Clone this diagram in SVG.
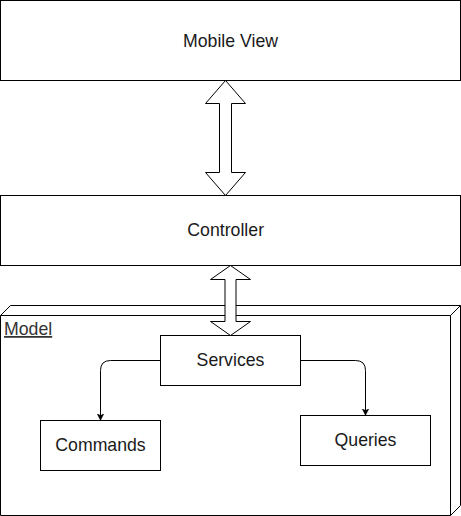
<svg xmlns="http://www.w3.org/2000/svg" width="461" height="516" viewBox="0 0 461 516">
<defs>
<style>
.box{fill:#fff;stroke:#000;stroke-width:1}
.dbl{fill:#fff;stroke:#000;stroke-width:1;stroke-linejoin:miter}
.lbl{font-family:"Liberation Sans",Arial,sans-serif;font-size:17.7px;fill:#1a1a1a;text-anchor:middle}
.edge{fill:none;stroke:#000;stroke-width:1}
</style>
<marker id="arr" viewBox="0 0 10 10" refX="10" refY="5" markerWidth="7" markerHeight="8" orient="auto" markerUnits="userSpaceOnUse">
<path d="M0,0 L10,5 L0,10 L3,5 Z" fill="#000" stroke="#000" stroke-width="0.5"/>
</marker>
</defs>
<g id="mobile-view">
<rect class="box" x="0.5" y="0.5" width="460" height="80"/>
<text class="lbl" x="230.5" y="47">Mobile View</text>
</g>
<g id="controller">
<rect class="box" x="0.5" y="195.5" width="460" height="70"/>
<text class="lbl" x="225.7" y="236">Controller</text>
</g>
<g id="model">
<path class="box" d="M10.5,305.5 L460.5,305.5 L460.5,505.5 L450.5,515.5 L0.5,515.5 L0.5,315.5 Z"/>
<path class="edge" d="M0.5,315.5 L450.5,315.5 L460.5,305.5 M450.5,315.5 L450.5,515.5"/>
<text x="4" y="335" style="font-family:'Liberation Sans',Arial,sans-serif;font-size:17.7px;fill:#333;text-decoration:underline">Model</text>
</g>
<g id="services">
<rect class="box" x="160.5" y="335.5" width="140" height="50"/>
<text class="lbl" x="230.5" y="366">Services</text>
</g>
<g id="commands">
<rect class="box" x="40.5" y="420.5" width="120" height="50"/>
<text class="lbl" x="100.5" y="451">Commands</text>
</g>
<g id="queries">
<rect class="box" x="300.5" y="415.5" width="130" height="50"/>
<text class="lbl" x="365.5" y="446">Queries</text>
</g>
<g id="connectors">
<path class="dbl" d="M225.5,80.5 L245.5,103.5 L231.5,103.5 L231.5,172.5 L245.5,172.5 L225.5,195.5 L205.5,172.5 L219.5,172.5 L219.5,103.5 L205.5,103.5 Z"/>
<path class="dbl" d="M230.5,265.5 L250.5,279.5 L236,279.5 L236,321.5 L250.5,321.5 L230.5,335.5 L210.5,321.5 L225,321.5 L225,279.5 L210.5,279.5 Z"/>
<path class="edge" marker-end="url(#arr)" d="M160.5,360.5 L110.5,360.5 Q100.5,360.5 100.5,370.5 L100.5,420.5"/>
<path class="edge" marker-end="url(#arr)" d="M300.5,360.5 L355.5,360.5 Q365.5,360.5 365.5,370.5 L365.5,415.5"/>
</g>
</svg>
